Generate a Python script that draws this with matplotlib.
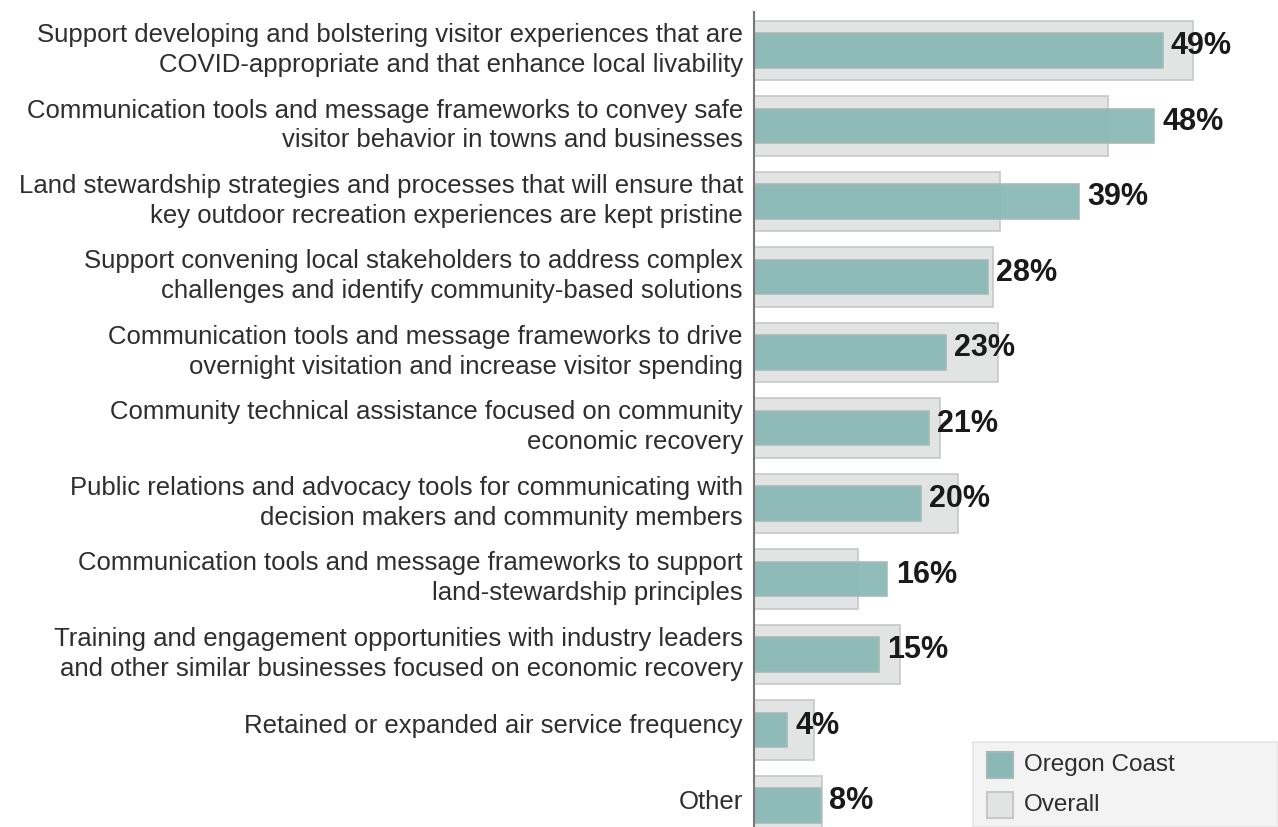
import matplotlib
matplotlib.use('Agg')
import matplotlib.pyplot as plt
import matplotlib.transforms as mtransforms
from matplotlib.patches import Rectangle
import numpy as np

plt.rcParams['font.family'] = ['Liberation Sans', 'DejaVu Sans']

categories = [
    "Support developing and bolstering visitor experiences that are\nCOVID-appropriate and that enhance local livability",
    "Communication tools and message frameworks to convey safe\nvisitor behavior in towns and businesses",
    "Land stewardship strategies and processes that will ensure that\nkey outdoor recreation experiences are kept pristine",
    "Support convening local stakeholders to address complex\nchallenges and identify community-based solutions",
    "Communication tools and message frameworks to drive\novernight visitation and increase visitor spending",
    "Community technical assistance focused on community\neconomic recovery",
    "Public relations and advocacy tools for communicating with\ndecision makers and community members",
    "Communication tools and message frameworks to support\nland-stewardship principles",
    "Training and engagement opportunities with industry leaders\nand other similar businesses focused on economic recovery",
    "Retained or expanded air service frequency",
    "Other",
]
oregon_coast = [49, 48, 39, 28, 23, 21, 20, 16, 15, 4, 8]
overall = [52.6, 42.5, 29.5, 28.6, 29.3, 22.3, 24.5, 12.5, 17.5, 7.2, 8.1]
legend_labels = ['Oregon Coast', 'Overall']

teal = '#8ab9b5'
teal_edge = '#a6b8b6'
grey = '#e1e4e3'
grey_edge = '#c6c9c8'

W, H = 1278, 827
fig = plt.figure(figsize=(W / 100, H / 100), dpi=100)
ax = fig.add_axes([754 / W, 0, 1 - 754 / W, 1 - 12 / H])

y = np.arange(len(categories))
ax.barh(y, overall, height=0.79, color=grey, edgecolor=grey_edge, linewidth=1.2, zorder=1)
ax.barh(y, oregon_coast, height=0.46, color=teal, edgecolor=teal_edge, linewidth=1.2,
        alpha=0.95, zorder=2)

# value labels for Oregon Coast
for yi, v in zip(y, oregon_coast):
    ax.annotate(f"{v}%", (v, yi), xytext=(6, 3), textcoords='offset points',
                va='center', ha='left', fontsize=22, fontweight='bold', color='#1a1a1a', zorder=3)

ax.set_xlim(0, 524 / 8.34)
ax.set_ylim(10.285, -0.51)
ax.set_yticks(y)
ax.set_yticklabels(categories, fontsize=18.5, color='#2e2e2e', linespacing=1.3)
ax.tick_params(axis='y', length=0, pad=8)
shift = mtransforms.ScaledTranslation(0, 6 / 100, fig.dpi_scale_trans)
for lab in ax.get_yticklabels():
    lab.set_transform(lab.get_transform() + shift)
ax.set_xticks([])
for s in ['top', 'right', 'bottom']:
    ax.spines[s].set_visible(False)
ax.spines['left'].set_color('#777777')
ax.spines['left'].set_linewidth(1.5)

# legend box, drawn by hand in figure pixels
px = lambda x, yy: (x / W, 1 - yy / H)
fig.patches.append(Rectangle(px(973, 827), (W - 973) / W, 85 / H, transform=fig.transFigure,
                             facecolor='#f3f3f3', edgecolor='#e4e4e4', linewidth=1.2, zorder=5))
for (fc, ec), label, top in zip([(teal, teal_edge), (grey, grey_edge)], legend_labels, [752, 792]):
    fig.patches.append(Rectangle(px(987, top + 26), 26 / W, 26 / H, transform=fig.transFigure,
                                 facecolor=fc, edgecolor=ec, linewidth=1.5, zorder=6))
    fig.text(1024 / W, 1 - (top + 13) / H, label, fontsize=17.5, color='#2e2e2e',
             va='center', ha='left', zorder=7)

fig.savefig('out.png', dpi=100)
